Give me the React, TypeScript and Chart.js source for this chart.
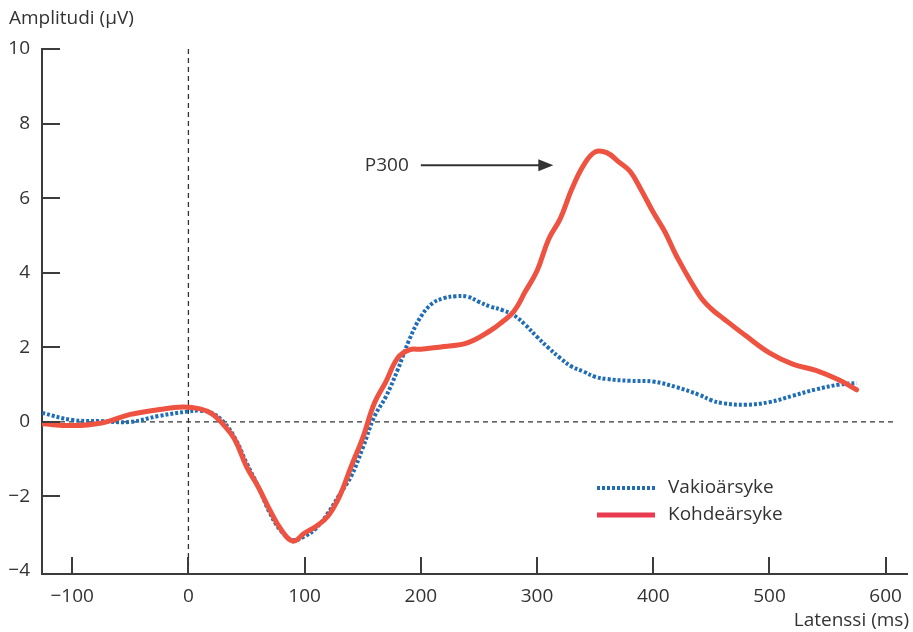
import React, { useEffect, useRef } from "react";
import { Chart, registerables } from "chart.js";
Chart.register(...registerables);

const FONT = '"Open Sans", "Noto Sans", sans-serif';
const TEXT = "#333333";
const AXIS = "#3c3c3c";

const xTicks = [-100, 0, 100, 200, 300, 400, 500, 600];
const yTicks = [-4, -2, 0, 2, 4, 6, 8, 10];

const kohdeMs = [-126, -100, -75, -50, -25, -5, 10, 20, 30, 40, 50, 60, 70, 80, 90, 100, 110, 120, 130, 140, 150, 160, 170, 180, 190, 200, 220, 240, 260, 270, 280, 290, 300, 310, 320, 330, 340, 350, 360, 370, 380, 390, 400, 410, 420, 440, 450, 460, 480, 500, 520, 540, 560, 575];
const kohdeUv = [-0.05, -0.1, -0.03, 0.2, 0.33, 0.4, 0.35, 0.22, -0.07, -0.48, -1.2, -1.74, -2.36, -2.9, -3.2, -2.98, -2.8, -2.53, -2.0, -1.2, -0.43, 0.5, 1.08, 1.71, 1.93, 1.95, 2.02, 2.12, 2.45, 2.68, 2.96, 3.5, 4.05, 4.9, 5.45, 6.25, 6.88, 7.24, 7.22, 6.98, 6.72, 6.2, 5.62, 5.1, 4.45, 3.38, 3.03, 2.78, 2.3, 1.85, 1.55, 1.38, 1.12, 0.86];

const vakioMs = [-126, -100, -75, -50, -25, 0, 10, 20, 30, 40, 50, 60, 70, 80, 90, 100, 110, 120, 130, 140, 150, 160, 170, 180, 190, 200, 210, 220, 230, 240, 250, 260, 270, 280, 290, 300, 310, 320, 330, 340, 350, 360, 380, 400, 420, 440, 450, 460, 480, 500, 520, 540, 560, 575];
const vakioUv = [0.24, 0.05, 0.02, 0.0, 0.16, 0.28, 0.3, 0.24, 0.01, -0.43, -1.1, -1.73, -2.44, -2.94, -3.17, -3.07, -2.85, -2.45, -1.95, -1.46, -0.7, 0.14, 0.68, 1.39, 2.2, 2.82, 3.18, 3.32, 3.37, 3.36, 3.22, 3.09, 3.0, 2.86, 2.6, 2.28, 1.98, 1.71, 1.48, 1.35, 1.21, 1.15, 1.1, 1.08, 0.93, 0.72, 0.58, 0.5, 0.46, 0.53, 0.7, 0.87, 1.0, 1.04];

const seriesNames = ["Vakioärsyke", "Kohdeärsyke"];
const yTitle = "Amplitudi (µV)";
const xTitle = "Latenssi (ms)";
const peakLabel = "P300";
// annotation arrow (data coords): from x=200 to x=314 at y=6.88
const arrowFrom = 200;
const arrowTo = 314;
const arrowY = 6.88;
const zeroLineEnd = 607;

const BLUE = "#1f6db6";
const RED = "#ee5341";
const RED_LEGEND = "#e93a4f";

const minus = (v: number) => (v < 0 ? "\u2212" + Math.abs(v) : String(v));

const overlay = {
  id: "overlay",
  beforeDatasetsDraw(chart: any) {
    const { ctx } = chart;
    const x = chart.scales.x;
    const y = chart.scales.y;
    ctx.save();
    ctx.strokeStyle = "#333";
    ctx.lineWidth = 1.3;
    ctx.setLineDash([5, 4]);
    const y0 = y.getPixelForValue(0);
    ctx.beginPath();
    ctx.moveTo(x.left, y0);
    ctx.lineTo(x.getPixelForValue(zeroLineEnd), y0);
    ctx.stroke();
    const x0 = x.getPixelForValue(0);
    ctx.beginPath();
    ctx.moveTo(x0, y.getPixelForValue(10));
    ctx.lineTo(x0, y.bottom);
    ctx.stroke();
    ctx.restore();
  },
  afterDraw(chart: any) {
    const { ctx } = chart;
    const x = chart.scales.x;
    const y = chart.scales.y;
    ctx.save();
    // inward ticks
    ctx.strokeStyle = AXIS;
    ctx.lineWidth = 2;
    ctx.setLineDash([]);
    yTicks.forEach((v) => {
      if (v === yTicks[0]) return;
      const py = Math.round(y.getPixelForValue(v));
      ctx.beginPath();
      ctx.moveTo(x.left, py);
      ctx.lineTo(x.left + 18, py);
      ctx.stroke();
    });
    xTicks.forEach((v) => {
      const px = Math.round(x.getPixelForValue(v));
      ctx.beginPath();
      ctx.moveTo(px, y.bottom);
      ctx.lineTo(px, y.bottom - 17);
      ctx.stroke();
    });
    // axis titles
    ctx.fillStyle = TEXT;
    ctx.font = `19px ${FONT}`;
    ctx.textBaseline = "middle";
    ctx.textAlign = "left";
    ctx.fillText(yTitle, 9, 19);
    ctx.textAlign = "right";
    ctx.fillText(xTitle, 909, 621);
    // P300 annotation
    const ay = y.getPixelForValue(arrowY);
    const ax1 = x.getPixelForValue(arrowFrom);
    const ax2 = x.getPixelForValue(arrowTo);
    ctx.textAlign = "right";
    ctx.fillText(peakLabel, ax1 - 12, ay);
    ctx.strokeStyle = "#333";
    ctx.lineWidth = 2;
    ctx.beginPath();
    ctx.moveTo(ax1, ay);
    ctx.lineTo(ax2 - 12, ay);
    ctx.stroke();
    ctx.fillStyle = "#333";
    ctx.beginPath();
    ctx.moveTo(ax2, ay);
    ctx.lineTo(ax2 - 15, ay - 6);
    ctx.lineTo(ax2 - 15, ay + 6);
    ctx.closePath();
    ctx.fill();
    // legend
    const lx1 = 597, lx2 = 655, ly1 = 488, ly2 = 515;
    ctx.lineWidth = 4;
    ctx.strokeStyle = BLUE;
    ctx.setLineDash([3, 2]);
    ctx.beginPath();
    ctx.moveTo(lx1, ly1);
    ctx.lineTo(lx2, ly1);
    ctx.stroke();
    ctx.setLineDash([]);
    ctx.lineWidth = 5;
    ctx.strokeStyle = RED_LEGEND;
    ctx.beginPath();
    ctx.moveTo(lx1, ly2);
    ctx.lineTo(lx2, ly2);
    ctx.stroke();
    ctx.fillStyle = TEXT;
    ctx.textAlign = "left";
    ctx.fillText(seriesNames[0], 668, ly1);
    ctx.fillText(seriesNames[1], 668, ly2);
    ctx.restore();
  },
};

export default function App() {
  const ref = useRef<HTMLCanvasElement>(null);
  useEffect(() => {
    if (!ref.current) return;
    const chart = new Chart(ref.current, {
      type: "line",
      data: {
        datasets: [
          {
            label: seriesNames[1],
            data: kohdeMs.map((m, i) => ({ x: m, y: kohdeUv[i] })),
            borderColor: RED,
            borderWidth: 5,
            pointRadius: 0,
            tension: 0.4,
            fill: false,
            borderCapStyle: "round",
            borderJoinStyle: "round",
          },
          {
            label: seriesNames[0],
            data: vakioMs.map((m, i) => ({ x: m, y: vakioUv[i] })),
            borderColor: BLUE,
            borderWidth: 4,
            borderDash: [3, 2],
            pointRadius: 0,
            tension: 0.4,
            fill: false,
          },
        ],
      },
      options: {
        animation: false,
        responsive: false,
        maintainAspectRatio: false,
        layout: { padding: { left: 0, top: 49, right: 2, bottom: 0 } },
        plugins: { legend: { display: false }, tooltip: { enabled: false }, title: { display: false } },
        scales: {
          x: {
            type: "linear",
            min: -126,
            max: 619,
            grid: { display: false, drawTicks: false },
            border: { display: true, color: AXIS, width: 2 },
            afterBuildTicks: (s: any) => {
              s.ticks = xTicks.map((v) => ({ value: v }));
            },
            afterFit: (s: any) => {
              s.height = 58;
            },
            ticks: {
              autoSkip: false,
              maxRotation: 0,
              padding: 11,
              color: TEXT,
              font: { family: FONT, size: 19 },
              callback: (v: any) => minus(Number(v)),
            },
          },
          y: {
            type: "linear",
            min: -4.08,
            max: 10,
            grid: { display: false, drawTicks: false },
            border: { display: true, color: AXIS, width: 2 },
            afterBuildTicks: (s: any) => {
              s.ticks = yTicks.map((v) => ({ value: v }));
            },
            afterFit: (s: any) => {
              s.width = 42;
            },
            ticks: {
              autoSkip: false,
              padding: 12,
              color: TEXT,
              font: { family: FONT, size: 19 },
              callback: (v: any) => minus(Number(v)),
            },
          },
        },
      },
      plugins: [overlay],
    });
    return () => chart.destroy();
  }, []);
  return (
    <div style={{ position: "absolute", left: 0, top: 0, width: 913, height: 632, background: "#fff" }}>
      <canvas ref={ref} width={913} height={632} style={{ width: 913, height: 632 }} />
    </div>
  );
}
